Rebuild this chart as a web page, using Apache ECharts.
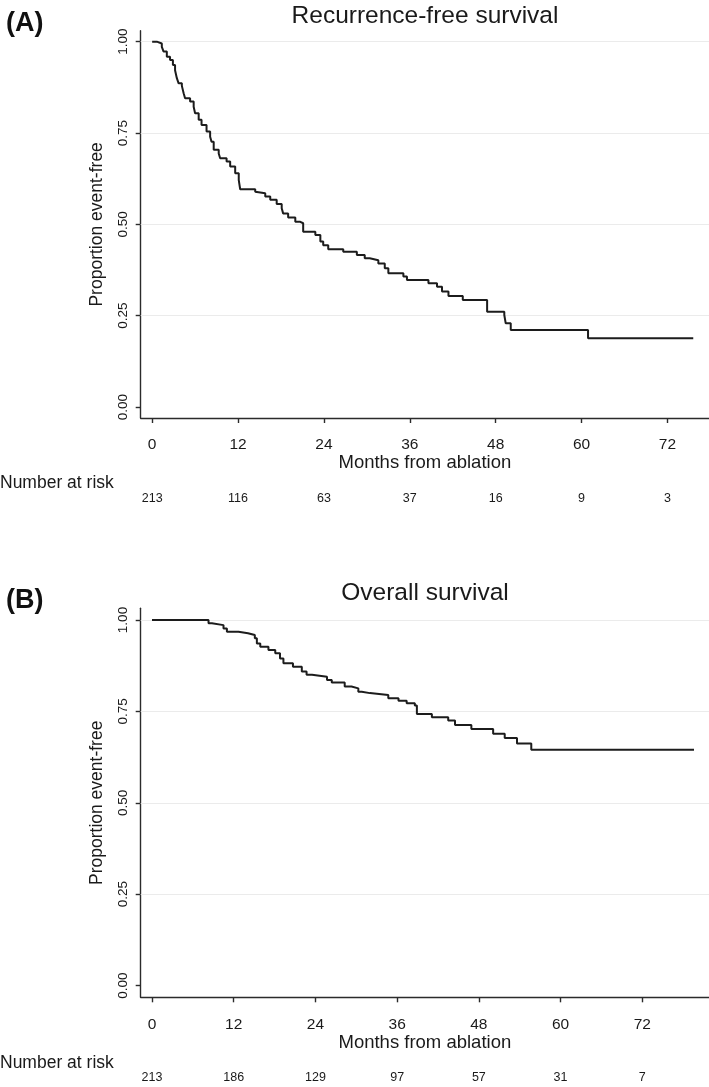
<!DOCTYPE html>
<html>
<head>
<meta charset="utf-8">
<script src="https://cdn.jsdelivr.net/npm/echarts@6/dist/echarts.min.js"></script>
<style>
html,body{margin:0;padding:0;background:#fff;}
#chart{width:709px;height:1087px;}
</style>
</head>
<body>
<div id="chart"></div>
<script>
// ---- data ----
const monthTicks = [0, 12, 24, 36, 48, 60, 72];
const yTicks = [0, 0.25, 0.5, 0.75, 1];
const gridValues = [0.25, 0.5, 0.75, 1];

const rfsTime = [0,0.65,1.35,1.6,2.05,2.5,2.9,3.2,3.45,3.7,4.15,4.4,4.6,5.3,5.8,6.0,6.5,6.9,7.6,8.1,8.3,8.6,9.3,9.5,10.4,10.9,11.6,12.1,12.3,14.4,14.6,15.8,16.5,17.4,18.1,18.3,19.0,20.0,20.7,21.1,22.8,23.5,23.9,24.6,26.7,28.6,29.7,30.4,31.6,32.5,33.0,35.1,35.6,38.6,39.8,40.5,41.4,43.4,46.8,49.2,49.4,50.1,60.9,75.6];
const rfsSurv = [1,0.995,0.986,0.973,0.959,0.950,0.936,0.922,0.900,0.886,0.879,0.859,0.845,0.836,0.822,0.804,0.786,0.772,0.754,0.740,0.726,0.704,0.694,0.681,0.672,0.658,0.640,0.621,0.596,0.589,0.585,0.576,0.567,0.556,0.544,0.530,0.519,0.507,0.503,0.480,0.471,0.453,0.443,0.432,0.425,0.416,0.407,0.402,0.393,0.380,0.366,0.357,0.348,0.339,0.329,0.316,0.304,0.293,0.261,0.252,0.229,0.211,0.188,0.188];

const osTime = [0,8.3,8.8,10.5,11.0,12.7,14.1,15.1,15.4,15.9,17.1,18.1,18.8,19.3,20.7,22.0,22.7,23.5,25.7,26.4,28.3,29.3,30.3,30.8,32.0,34.7,36.2,37.4,38.6,38.9,41.1,43.5,44.5,46.9,50.1,51.8,53.6,55.7,79.6];
const osSurv = [1,0.991,0.986,0.977,0.968,0.964,0.959,0.950,0.936,0.927,0.918,0.909,0.895,0.882,0.872,0.859,0.850,0.845,0.836,0.829,0.818,0.813,0.804,0.800,0.795,0.786,0.779,0.772,0.766,0.743,0.734,0.725,0.713,0.702,0.689,0.677,0.662,0.645,0.645];

const rfsAtRisk = [213, 116, 63, 37, 16, 9, 3];
const osAtRisk = [213, 186, 129, 97, 57, 31, 7];

// ---- chart ----
const SANS = "'Liberation Sans', Arial, Helvetica, sans-serif";
const AXIS_COLOR = '#2b2b2b';

function pairs(t, s) { return t.map((v, i) => [v, s[i]]); }

const panels = [
  { top: 30.7, height: 387.3, xmin: -1.6, xmax: 77.8, ymin: -0.03, ymax: 1.03, atRisk: rfsAtRisk, data: pairs(rfsTime, rfsSurv) },
  { top: 608.3, height: 389, xmin: -1.66, xmax: 81.8, ymin: -0.032, ymax: 1.032, atRisk: osAtRisk, data: pairs(osTime, osSurv) }
];

const grid = [], xAxis = [], yAxis = [], series = [];
panels.forEach((p, i) => {
  grid.push({ left: 140.7, width: 568.3, top: p.top, height: p.height, containLabel: false });
  xAxis.push({
    type: 'value', gridIndex: i, min: p.xmin, max: p.xmax, position: 'bottom',
    name: 'Months from ablation', nameLocation: 'middle', nameGap: 33,
    nameTextStyle: { fontFamily: SANS, fontSize: 18.5, color: '#1a1a1a' },
    axisLine: { show: true, onZero: false, lineStyle: { color: AXIS_COLOR, width: 1.4 } },
    axisTick: { show: true, length: 5, customValues: monthTicks, lineStyle: { color: AXIS_COLOR, width: 1.4 } },
    axisLabel: { customValues: monthTicks, margin: 19, fontFamily: SANS, fontSize: 15.5, color: '#1a1a1a' },
    splitLine: { show: false }
  });
  xAxis.push({
    type: 'value', gridIndex: i, min: p.xmin, max: p.xmax, position: 'bottom', offset: 66,
    axisLine: { show: false }, axisTick: { show: false }, splitLine: { show: false },
    axisLabel: {
      customValues: monthTicks, margin: 8, fontFamily: SANS, fontSize: 12.5, color: '#1a1a1a',
      formatter: (v) => { const k = monthTicks.indexOf(v); return k >= 0 ? String(p.atRisk[k]) : ''; }
    }
  });
  yAxis.push({
    type: 'value', gridIndex: i, min: p.ymin, max: p.ymax,
    name: 'Proportion event-free', nameLocation: 'middle', nameGap: 35,
    nameTextStyle: { fontFamily: SANS, fontSize: 17.5, color: '#1a1a1a' },
    axisLine: { show: true, onZero: false, lineStyle: { color: AXIS_COLOR, width: 1.4 } },
    axisTick: { show: true, length: 5, customValues: yTicks, lineStyle: { color: AXIS_COLOR, width: 1.4 } },
    axisLabel: { customValues: yTicks, rotate: 90, margin: 10, fontFamily: SANS, fontSize: 13.5, color: '#1a1a1a',
      formatter: (v) => v.toFixed(2) },
    splitLine: { show: false }
  });
  series.push({
    type: 'line', xAxisIndex: i * 2, yAxisIndex: i, step: 'end', showSymbol: false, z: 3,
    lineStyle: { color: '#1c1c1c', width: 2 },
    data: p.data, animation: false, silent: true,
    markLine: {
      silent: true, symbol: 'none', z: 1, animation: false,
      label: { show: false },
      lineStyle: { color: '#ebebeb', width: 1.2, type: 'solid' },
      emphasis: { disabled: true },
      data: gridValues.map(v => ({ yAxis: v }))
    }
  });
});

const graphic = [
  { type: 'text', left: 6, top: 10, style: { text: '(A)', font: "bold 27px " + SANS, fill: '#111' } },
  { type: 'text', left: 6, top: 587, style: { text: '(B)', font: "bold 27px " + SANS, fill: '#111' } },
  { type: 'text', x: 425, y: 16, style: { text: 'Recurrence-free survival', font: "24.5px " + SANS, fill: '#1a1a1a', align: 'center', verticalAlign: 'middle' } },
  { type: 'text', x: 425, y: 593, style: { text: 'Overall survival', font: "24.5px " + SANS, fill: '#1a1a1a', align: 'center', verticalAlign: 'middle' } },
  { type: 'text', x: 0, y: 483, style: { text: 'Number at risk', font: "17.5px " + SANS, fill: '#1a1a1a', align: 'left', verticalAlign: 'middle' } },
  { type: 'text', x: 0, y: 1063, style: { text: 'Number at risk', font: "17.5px " + SANS, fill: '#1a1a1a', align: 'left', verticalAlign: 'middle' } }
];

const chart = echarts.init(document.getElementById('chart'), null, { renderer: 'canvas' });
chart.setOption({ animation: false, backgroundColor: '#fff', grid, xAxis, yAxis, series, graphic });
</script>
</body>
</html>
